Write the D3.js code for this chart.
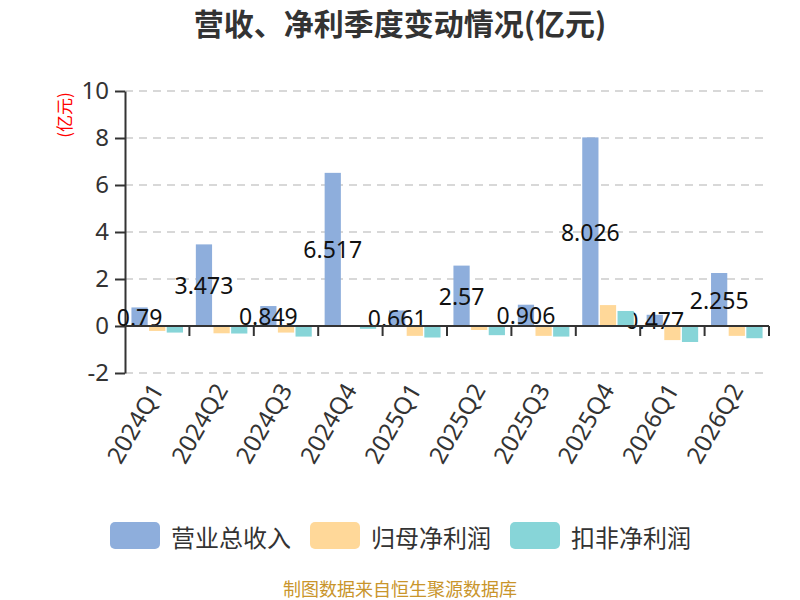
<!DOCTYPE html>
<html>
<head>
<meta charset="utf-8">
<script src="https://cdn.jsdelivr.net/npm/d3@7"></script>
<style>
  body { margin: 0; background: #fff; }
  svg { font-family: "Noto Sans", "Noto Sans CJK SC", sans-serif; }
</style>
</head>
<body>
<svg id="chart" width="800" height="600"></svg>
<script>
const categories = ["2024Q1","2024Q2","2024Q3","2024Q4","2025Q1","2025Q2","2025Q3","2025Q4","2026Q1","2026Q2"];
const seriesNames = ["营业总收入","归母净利润","扣非净利润"];
const revenue = [0.79, 3.473, 0.849, 6.517, 0.661, 2.57, 0.906, 8.026, 0.477, 2.255];
const netProfit = [-0.21, -0.31, -0.28, 0, -0.42, -0.17, -0.42, 0.89, -0.6, -0.42];
const deductedProfit = [-0.28, -0.32, -0.45, -0.12, -0.49, -0.39, -0.45, 0.64, -0.68, -0.52];
const yTicks = [-2, 0, 2, 4, 6, 8, 10];
const colors = ["#8eaedc", "#ffd899", "#87d5d8"];
const title = "营收、净利季度变动情况(亿元)";
const yName = "(亿元)";
const footer = "制图数据来自恒生聚源数据库";

const seriesData = [revenue, netProfit, deductedProfit];
const svg = d3.select("#chart");
const cjk = '"Noto Sans CJK SC", "Noto Sans", sans-serif';

const x = d3.scaleBand().domain(categories).range([125, 769]).padding(0);
const y = d3.scaleLinear().domain([-2, 10]).range([373, 91]);
const groupW = x.bandwidth() * 0.8;
const x1 = d3.scaleBand().domain(seriesNames).range([0, groupW]).paddingInner(0.08).paddingOuter(0);
const groupOffset = (x.bandwidth() - groupW) / 2;

// title
svg.append("text").attr("x", 400).attr("y", 22).attr("text-anchor", "middle")
  .attr("dominant-baseline", "central")
  .attr("font-family", cjk).attr("font-weight", "bold").attr("font-size", 30).attr("fill", "#333")
  .text(title);

// gridlines
svg.append("g").selectAll("line").data(yTicks.filter(d => d !== 0)).join("line")
  .attr("x1", 125).attr("x2", 769)
  .attr("y1", d => y(d)).attr("y2", d => y(d))
  .attr("stroke", "#ccc").attr("stroke-width", 1.5).attr("stroke-dasharray", "8,6");

// y axis
const yAxis = svg.append("g").attr("transform", "translate(125,0)")
  .call(d3.axisLeft(y).tickValues(yTicks).tickFormat(d => String(d)).tickSize(10).tickSizeOuter(0).tickPadding(6));
yAxis.select(".domain").attr("stroke", "#333").attr("stroke-width", 2);
yAxis.selectAll(".tick line").attr("stroke", "#333").attr("stroke-width", 2);
yAxis.selectAll(".tick text").attr("font-size", 24).attr("fill", "#333")
  .attr("font-family", '"Noto Sans", sans-serif');

// y axis name
svg.append("text").attr("transform", "translate(63,115) rotate(-90)")
  .attr("text-anchor", "middle").attr("dominant-baseline", "central")
  .attr("font-family", cjk).attr("font-size", 17).attr("fill", "#f00").text(yName);

// bars: draw per series, labels for revenue after its bars
seriesData.forEach((vals, si) => {
  const g = svg.append("g");
  g.selectAll("rect").data(vals).join("rect")
    .attr("x", (d, i) => x(categories[i]) + groupOffset + x1(seriesNames[si]))
    .attr("width", x1.bandwidth())
    .attr("y", d => y(Math.max(0, d)))
    .attr("height", d => Math.abs(y(d) - y(0)))
    .attr("fill", colors[si]);
  if (si === 0) {
    g.selectAll("text").data(vals).join("text")
      .attr("x", (d, i) => x(categories[i]) + groupOffset + x1(seriesNames[si]) + x1.bandwidth() / 2)
      .attr("y", d => (y(d) + y(0)) / 2)
      .attr("text-anchor", "middle").attr("dominant-baseline", "central")
      .attr("font-size", 23).attr("fill", "#111")
      .text(d => d);
  }
});

// x axis line at zero
const xAxisG = svg.append("g");
xAxisG.append("line").attr("x1", 125).attr("x2", 769).attr("y1", y(0)).attr("y2", y(0))
  .attr("stroke", "#333").attr("stroke-width", 2);
const boundaries = categories.map(c => x(c)).concat([x(categories[categories.length - 1]) + x.bandwidth()]);
xAxisG.selectAll("line.tk").data(boundaries.slice(1)).join("line").attr("class", "tk")
  .attr("x1", d => d).attr("x2", d => d).attr("y1", y(0)).attr("y2", y(0) + 10)
  .attr("stroke", "#333").attr("stroke-width", 2);

// x labels
svg.append("g").selectAll("text").data(categories).join("text")
  .attr("transform", c => `translate(${x(c) + x.bandwidth() / 2 - 1},${385}) rotate(-60)`)
  .attr("text-anchor", "end").attr("dominant-baseline", "central")
  .attr("font-size", 24).attr("fill", "#333").text(c => c);

// legend
const legendX = [110, 310, 510];
const lg = svg.append("g");
seriesNames.forEach((n, i) => {
  lg.append("rect").attr("x", legendX[i]).attr("y", 522).attr("width", 50).attr("height", 27)
    .attr("rx", 5).attr("fill", colors[i]);
  lg.append("text").attr("x", legendX[i] + 61).attr("y", 536).attr("dominant-baseline", "central")
    .attr("font-family", cjk).attr("font-size", 24).attr("fill", "#333").text(n);
});

// footer
svg.append("text").attr("x", 400).attr("y", 588).attr("text-anchor", "middle").attr("dominant-baseline", "central")
  .attr("font-family", cjk).attr("font-size", 18).attr("fill", "#c9952b").text(footer);
</script>
</body>
</html>
